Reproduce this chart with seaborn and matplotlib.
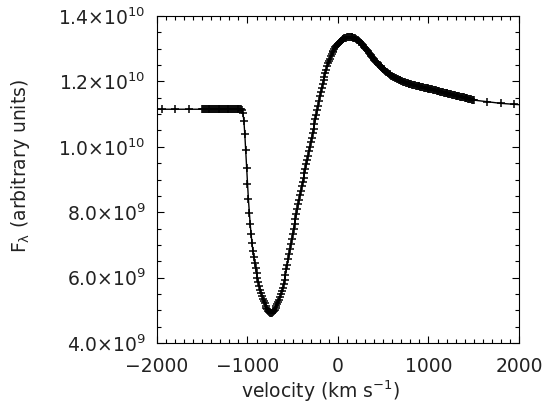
import numpy as np
import pandas as pd
import matplotlib
matplotlib.use("Agg")
import matplotlib.pyplot as plt
import seaborn as sns
from matplotlib.ticker import FixedLocator, FixedFormatter, MultipleLocator

# dense sampling of the profile, every 10 km/s from -1500 to 1500
vel_dense = np.arange(-1500, 1501, 10)
# flux in units of 1e9
flux_dense = [
    11.15, 11.15, 11.15, 11.15, 11.15, 11.15, 11.15, 11.15, 11.15, 11.15,
    11.15, 11.15, 11.15, 11.15, 11.15, 11.15, 11.15, 11.15, 11.15, 11.15,
    11.15, 11.15, 11.15, 11.15, 11.15, 11.15, 11.15, 11.15, 11.15, 11.15,
    11.15, 11.15, 11.15, 11.15, 11.15, 11.15, 11.15, 11.15, 11.15, 11.15,
    11.15, 11.15, 11.15, 11.15, 11.13, 11.02, 10.80, 10.40, 9.90, 9.36,
    8.85, 8.40, 7.99, 7.63, 7.32, 7.05, 6.82, 6.62, 6.44, 6.28,
    6.13, 5.99, 5.86, 5.74, 5.63, 5.53, 5.44, 5.36, 5.28, 5.21,
    5.14, 5.08, 5.03, 4.98, 4.95, 4.93, 4.92, 4.93, 4.95, 4.98,
    5.02, 5.07, 5.12, 5.18, 5.25, 5.33, 5.41, 5.50, 5.59, 5.69,
    5.80, 5.94, 6.09, 6.25, 6.40, 6.56, 6.71, 6.87, 7.02, 7.18,
    7.33, 7.49, 7.64, 7.80, 7.95, 8.10, 8.24, 8.38, 8.52, 8.65,
    8.79, 8.92, 9.06, 9.19, 9.33, 9.46, 9.60, 9.73, 9.87, 10.00,
    10.14, 10.28, 10.42, 10.56, 10.70, 10.84, 10.98, 11.12, 11.26, 11.40,
    11.54, 11.67, 11.80, 11.92, 12.04, 12.15, 12.26, 12.36, 12.46, 12.55,
    12.63, 12.70, 12.77, 12.83, 12.89, 12.94, 12.99, 13.04, 13.08, 13.12,
    13.16, 13.19, 13.22, 13.25, 13.27, 13.29, 13.31, 13.32, 13.33, 13.34,
    13.35, 13.35, 13.36, 13.36, 13.36, 13.36, 13.35, 13.34, 13.33, 13.32,
    13.30, 13.28, 13.26, 13.24, 13.21, 13.19, 13.16, 13.13, 13.10, 13.06,
    13.03, 12.99, 12.96, 12.92, 12.88, 12.85, 12.81, 12.78, 12.74, 12.71,
    12.67, 12.64, 12.61, 12.58, 12.54, 12.51, 12.48, 12.46, 12.43, 12.40,
    12.37, 12.35, 12.32, 12.30, 12.28, 12.26, 12.24, 12.22, 12.20, 12.18,
    12.16, 12.15, 12.13, 12.11, 12.10, 12.08, 12.07, 12.05, 12.04, 12.03,
    12.02, 12.00, 11.99, 11.98, 11.97, 11.96, 11.95, 11.94, 11.93, 11.92,
    11.91, 11.91, 11.90, 11.89, 11.89, 11.88, 11.87, 11.87, 11.86, 11.85,
    11.85, 11.84, 11.83, 11.83, 11.82, 11.81, 11.81, 11.80, 11.79, 11.79,
    11.78, 11.78, 11.77, 11.76, 11.76, 11.75, 11.74, 11.74, 11.73, 11.72,
    11.71, 11.71, 11.70, 11.69, 11.69, 11.68, 11.67, 11.66, 11.66, 11.65,
    11.64, 11.64, 11.63, 11.62, 11.61, 11.61, 11.60, 11.59, 11.58, 11.58,
    11.57, 11.56, 11.56, 11.55, 11.54, 11.53, 11.53, 11.52, 11.51, 11.51,
    11.50, 11.49, 11.48, 11.48, 11.47, 11.46, 11.45, 11.45, 11.44, 11.43,
    11.43,
]

# sparse wing points
vel_blue = [-2100, -1950, -1800, -1650]
flux_blue = [11.15, 11.15, 11.15, 11.15]
vel_red = [1650, 1800, 1950, 2100]
flux_red = [11.38, 11.33, 11.30, 11.27]

ytick_vals = [4e9, 6e9, 8e9, 1e10, 1.2e10, 1.4e10]
ytick_labels = [r"4.0$\times$10$^{9}$", r"6.0$\times$10$^{9}$", r"8.0$\times$10$^{9}$",
                r"1.0$\times$10$^{10}$", r"1.2$\times$10$^{10}$", r"1.4$\times$10$^{10}$"]
xtick_vals = [-2000, -1000, 0, 1000, 2000]
xtick_labels = ["\u22122000", "\u22121000", "0", "1000", "2000"]

df = pd.DataFrame({
    "velocity": np.concatenate([vel_blue, vel_dense, vel_red]),
    "flux": np.concatenate([flux_blue, flux_dense, flux_red]) * 1e9,
})

sns.set_style("ticks")
plt.rcParams["font.family"] = ["DejaVu Sans"]
plt.rcParams["mathtext.default"] = "regular"

fig = plt.figure(figsize=(5.48, 4.12), dpi=100)
ax = fig.add_axes([0.2865, 0.1675, 0.6605, 0.7935])

sns.lineplot(data=df, x="velocity", y="flux", ax=ax, sort=False, estimator=None,
             color="black", linewidth=1.0, marker="+", markersize=5.5,
             markeredgewidth=1.1, markeredgecolor="black")

ax.set_xlim(-2000, 2000)
ax.set_ylim(4e9, 1.4e10)

ax.xaxis.set_major_locator(FixedLocator(xtick_vals))
ax.xaxis.set_major_formatter(FixedFormatter(xtick_labels))
ax.xaxis.set_minor_locator(MultipleLocator(100))
ax.yaxis.set_major_locator(FixedLocator(ytick_vals))
ax.yaxis.set_major_formatter(FixedFormatter(ytick_labels))
ax.yaxis.set_minor_locator(MultipleLocator(5e8))

ax.tick_params(which="both", direction="in", top=True, right=True,
               color="black", width=0.8, labelsize=13.5, labelcolor="#222222")
ax.tick_params(which="major", length=5)
ax.tick_params(which="minor", length=2.8)
ax.tick_params(axis="x", which="major", pad=10)
ax.tick_params(axis="y", which="major", pad=8)
for sp in ax.spines.values():
    sp.set_visible(True)
    sp.set_linewidth(0.8)
    sp.set_color("black")

ax.set_xlabel(r"velocity (km s$^{-1}$)", fontsize=13.5, color="#222222")
ax.set_ylabel(r"F$_\lambda$ (arbitrary units)", fontsize=13.5, color="#222222")
ax.xaxis.set_label_coords(0.453, -0.108)
ax.yaxis.set_label_coords(-0.345, 0.54)

fig.savefig("out.png", dpi=100)
